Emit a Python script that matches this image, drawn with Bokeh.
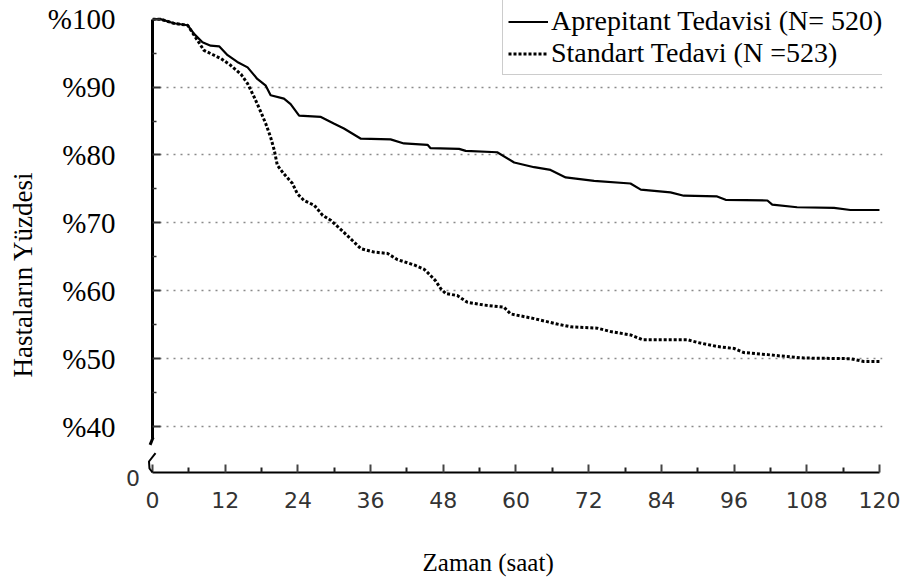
from math import pi
from bokeh.plotting import figure
from bokeh.models import Range1d, FixedTicker, Legend, LegendItem
from bokeh.core.properties import value
from bokeh.embed import file_html
from bokeh.resources import INLINE

# ---- data ----
apr_t = [0, 1.3, 3.5, 5.8, 6.9, 8.25, 9.6, 11, 12.4, 14, 15.7, 17.3, 18.7, 19.5, 21.7, 22.8,
         24.2, 27.8, 30, 31.6, 34.4, 39.3, 41.5, 45.4, 45.9, 50.6, 51.7, 56.9, 59.7, 63,
         65.7, 68.2, 72.9, 78.9, 80.6, 85.5, 87.7, 93.2, 94.6, 101.5, 102.3, 106.4, 112.5,
         115.2, 120]
apr_v = [100, 100, 99.4, 99.1, 97.8, 96.6, 96.1, 96.0, 94.7, 93.7, 92.9, 91.2, 90.2, 88.8, 88.3, 87.5,
         85.8, 85.6, 84.6, 83.9, 82.4, 82.3, 81.7, 81.5, 81.0, 80.9, 80.6, 80.4, 78.9, 78.2,
         77.8, 76.7, 76.2, 75.8, 74.9, 74.5, 74.0, 73.9, 73.4, 73.3, 72.7, 72.3, 72.2,
         71.9, 71.9]

std_t = [0, 1.3, 3.5, 5.8, 6.9, 8.5, 9.9, 11.3, 12.9, 14.6, 15.7, 16.8, 17.9, 18.7, 19.5, 20.1,
         20.6, 21.7, 23.1, 23.9, 25, 26.7, 28.1, 29.4, 31.6, 33, 34.4, 36.6, 38.8, 40.4, 43.2,
         44.8, 45.4, 46.7, 47.6, 48.4, 50.3, 52, 54.7, 58, 59.1, 63, 66.8, 69, 73.4, 75.6,
         78.9, 80.9, 88.3, 89.9, 93.2, 96, 97.6, 101.5, 103.7, 107.5, 115.2, 117.4, 120]
std_v = [100, 100, 99.4, 99.1, 97.6, 95.4, 94.8, 94.2, 93.2, 91.9, 90.5, 88.5, 86.3, 84.6, 82.6, 80.7,
         78.5, 77.2, 75.8, 74.3, 73.3, 72.6, 71.1, 70.4, 68.6, 67.4, 66.2, 65.7, 65.5, 64.6, 63.8,
         63.2, 62.7, 61.5, 60.3, 59.6, 59.3, 58.3, 57.9, 57.6, 56.6, 55.9, 55.1, 54.7, 54.5, 54.0,
         53.5, 52.8, 52.8, 52.4, 51.8, 51.5, 50.9, 50.6, 50.4, 50.1, 50.0, 49.6, 49.6]

labels = ["Aprepitant Tedavisi (N= 520)", "Standart Tedavi (N =523)"]
x_ticks = [0, 12, 24, 36, 48, 60, 72, 84, 96, 108, 120]
x_minor = [6, 18, 30, 42, 54, 66, 78, 90, 102, 114]
y_ticks = [40, 50, 60, 70, 80, 90, 100]
y_minor = [45, 55, 65, 75, 85, 95]
y_tick_labels = {v: "%" + str(v) for v in y_ticks}
x_title = "Zaman (saat)"
y_title = "Hastaların Yüzdesi"
break_zero = "0"

# axis-break decoration (data coords)
brk_top_x = [0.1, -0.4]
brk_top_y = [38.4, 37.3]
brk_bot_x = [0.5, -0.58, -0.5, 0.0]
brk_bot_y = [36.08, 34.86, 33.83, 33.24]

p = figure(frame_width=730, frame_height=472,
           x_range=Range1d(0, 120.5), y_range=Range1d(33.24, 102.75),
           output_backend="svg", toolbar_location=None,
           min_border_left=152, min_border_right=20, min_border_top=0, min_border_bottom=105)
p.outline_line_color = None
p.background_fill_color = "white"
p.border_fill_color = "white"

# y axis
ya = p.yaxis[0]
ya.bounds = (38.3, 100)
ya.ticker = FixedTicker(ticks=y_ticks, minor_ticks=y_minor)
ya.major_label_overrides = y_tick_labels
ya.axis_line_width = 3
ya.axis_line_color = "black"
ya.major_tick_in = 8
ya.major_tick_out = 0
ya.minor_tick_in = 4
ya.minor_tick_out = 0
ya.major_tick_line_width = 2
ya.minor_tick_line_width = 1.5
ya.major_tick_line_color = "#333333"
ya.minor_tick_line_color = "#333333"
ya.major_label_text_font = "Liberation Serif"
ya.major_label_text_font_size = "29px"
ya.major_label_text_color = "black"
ya.major_label_standoff = 37

# x axis
xa = p.xaxis[0]
xa.bounds = (0, 120)
xa.ticker = FixedTicker(ticks=x_ticks, minor_ticks=x_minor)
xa.axis_line_width = 2
xa.axis_line_color = "black"
xa.major_tick_in = 8
xa.major_tick_out = 0
xa.minor_tick_in = 5
xa.minor_tick_out = 0
xa.major_tick_line_width = 2
xa.minor_tick_line_width = 2
xa.major_tick_line_color = "#444444"
xa.minor_tick_line_color = "#222222"
xa.major_label_text_font = "DejaVu Sans"
xa.major_label_text_font_size = "22px"
xa.major_label_text_color = "#333333"
xa.major_label_standoff = 19

# grid
p.xgrid.visible = False
p.ygrid.ticker = FixedTicker(ticks=[40, 50, 60, 70, 80, 90])
p.ygrid.bounds = (0, 120)
p.ygrid.grid_line_color = "#8a8a8a"
p.ygrid.grid_line_dash = "2 5"
p.ygrid.grid_line_width = 1.5

# curves
r1 = p.line(apr_t, apr_v, line_color="black", line_width=2.2)
r2 = p.line(std_t, std_v, line_color="black", line_width=3, line_dash="3 2")

# axis break marks
p.line(brk_top_x, brk_top_y, line_color="black", line_width=3, level="overlay")
p.line(brk_bot_x, brk_bot_y, line_color="black", line_width=2, level="overlay")

legend = Legend(items=[LegendItem(label=labels[0], renderers=[r1]),
                       LegendItem(label=labels[1], renderers=[r2])],
                location=(350, 397), glyph_width=40, glyph_height=27, label_height=27,
                label_standoff=3, padding=5, spacing=0, margin=0,
                label_text_font="Liberation Serif", label_text_font_size="28px",
                label_text_color="black",
                border_line_color="#999999", border_line_width=1.5,
                background_fill_color="white", background_fill_alpha=1.0)
p.add_layout(legend)

# texts outside the data area
p.text(x=[-21.45], y=[62.4], text=[y_title], angle=pi / 2,
       text_align="center", text_baseline="middle",
       text_font=value("Liberation Serif"), text_font_size=value("27px"),
       text_color="black", level="overlay")
p.text(x=[-3.2], y=[32.5], text=[break_zero], text_align="center", text_baseline="middle",
       text_font=value("DejaVu Sans"), text_font_size=value("22px"),
       text_color="#333333", level="overlay")
p.text(x=[55.4], y=[19.98], text=[x_title], text_align="center", text_baseline="middle",
       text_font=value("Liberation Serif"), text_font_size=value("25px"),
       text_color="black", level="overlay")

open("out.html", "w").write(file_html(p, INLINE))
